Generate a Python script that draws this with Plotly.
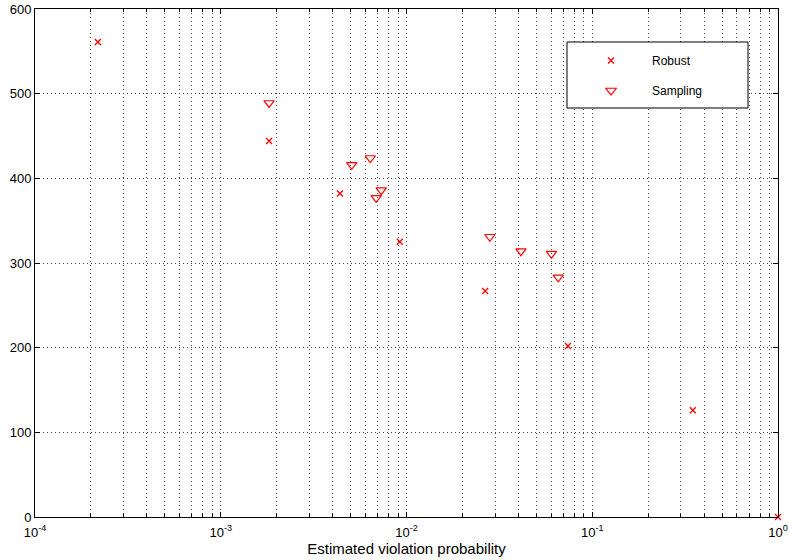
import plotly.graph_objects as go

# Data
robust_x = [2.18e-4, 1.82e-3, 4.38e-3, 9.2e-3, 0.0265, 0.074, 0.348, 1.0]
robust_y = [561, 444, 382, 325, 267, 202, 126, 0]

sampling_x = [1.82e-3, 5.07e-3, 6.38e-3, 7.31e-3, 6.87e-3, 0.0281, 0.0413, 0.0603, 0.0656]
sampling_y = [489, 416, 424, 386, 377, 331, 314, 311, 283]

x_tickvals = [1e-4, 1e-3, 1e-2, 1e-1, 1e0]
x_ticktext = ["10<sup>-4</sup>", "10<sup>-3</sup>", "10<sup>-2</sup>", "10<sup>-1</sup>", "10<sup>0</sup>"]
y_tickvals = [0, 100, 200, 300, 400, 500, 600]

FONT = "Liberation Sans, Arial, Helvetica, sans-serif"
RED = "#ff0000"

fig = go.Figure()
fig.add_trace(go.Scatter(
    x=robust_x, y=robust_y, mode="markers", name="Robust",
    marker=dict(symbol="x-thin", size=6, line=dict(color=RED, width=1.3), color=RED),
    cliponaxis=False, legendgroup="a",
))
fig.add_trace(go.Scatter(
    x=sampling_x, y=sampling_y, mode="markers", name="Sampling",
    marker=dict(symbol="triangle-down-open", size=9, line=dict(color=RED, width=1.2), color=RED),
    cliponaxis=False, legendgroup="b",
))

# legend box (white with black border), drawn above the grid
fig.add_shape(type="rect", xref="paper", yref="paper",
              x0=(567 - 35) / 743, x1=(748 - 35) / 743,
              y0=(517 - 108) / 508, y1=(517 - 42) / 508,
              line=dict(color="black", width=1), fillcolor="white", layer="above")

grid_dash = "1px,3px"
fig.update_layout(
    width=789, height=560,
    margin=dict(l=35, r=11, t=9, b=43),
    paper_bgcolor="white", plot_bgcolor="white",
    font=dict(family=FONT, size=12, color="black"),
    showlegend=True,
    legend=dict(x=(570 - 35) / 743, y=(517 - 46) / 508, xanchor="left", yanchor="top",
                bgcolor="rgba(0,0,0,0)", borderwidth=0, tracegroupgap=11, itemwidth=72,
                font=dict(family=FONT, size=12, color="black")),
    xaxis=dict(
        type="log", range=[-4, 0], automargin=False,
        tickvals=x_tickvals, ticktext=x_ticktext,
        ticks="inside", ticklen=5, tickcolor="black", ticklabelstandoff=3,
        showline=True, linecolor="black", linewidth=1, mirror="allticks",
        showgrid=True, gridcolor="#444", gridwidth=1, griddash=grid_dash,
        minor=dict(dtick="D1", ticks="inside", ticklen=3, tickcolor="black",
                   showgrid=True, gridcolor="#444", gridwidth=1, griddash=grid_dash),
        zeroline=False,
        title=dict(text="Estimated violation probability", font=dict(size=15), standoff=2),
        tickfont=dict(size=13),
    ),
    yaxis=dict(
        range=[0, 600], tickvals=y_tickvals, automargin=False,
        ticks="inside", ticklen=5, tickcolor="black",
        showline=True, linecolor="black", linewidth=1, mirror="allticks",
        showgrid=True, gridcolor="#444", gridwidth=1, griddash=grid_dash,
        zeroline=False, tickfont=dict(size=13),
    ),
)

fig.write_html("out.html", config={"displayModeBar": False},
               post_script="document.body.style.margin='0px';")
